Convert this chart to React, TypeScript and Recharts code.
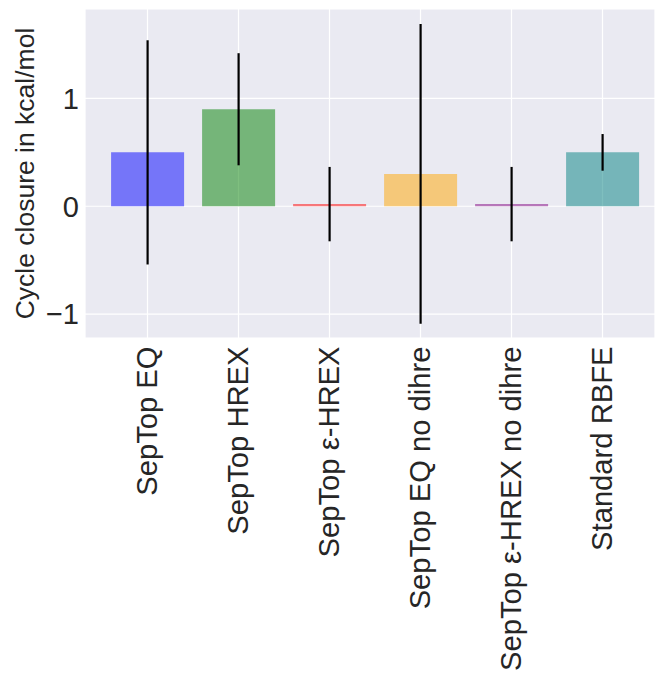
import { BarChart, Bar, Cell, CartesianGrid, XAxis, YAxis, ErrorBar } from 'recharts';

const categories = [
    'SepTop EQ',
    'SepTop HREX',
    'SepTop ε-HREX',
    'SepTop EQ no dihre',
    'SepTop ε-HREX no dihre',
    'Standard RBFE',
];
const closures = [0.5, 0.9, 0.02, 0.3, 0.02, 0.5];
const closureErrors = [1.04, 0.52, 0.345, 1.39, 0.345, 0.17];
const barColors = ['blue', 'green', 'red', 'orange', 'purple', 'teal'];
const yTicks = [-1, 0, 1];

const font = '"Liberation Sans", Arial, sans-serif';
const textColor = '#262626';

const XTick = ({ x, y, payload }: any) => {
    const ty = y + 8.5;
    return (
        <text
            x={x}
            y={ty}
            transform={`rotate(-90, ${x}, ${ty})`}
            textAnchor="end"
            dy={9}
            fontSize={29.2}
            fontFamily={font}
            fill={textColor}
        >
            {payload.value}
        </text>
    );
};

const App = () => {
    const data = categories.map((name, i) => ({
        name,
        value: closures[i],
        err: closureErrors[i],
    }));

    return (
        <div style={{ position: 'absolute', left: 0, top: 0 }}>
            <BarChart
                width={655}
                height={675}
                data={data}
                margin={{ top: 9, right: 0, bottom: 0, left: 0 }}
                barCategoryGap="10%"
            >
                <CartesianGrid fill="#eaeaf2" stroke="#ffffff" strokeWidth={1.2} />
                <XAxis
                    dataKey="name"
                    height={337}
                    padding={{ left: 17, right: 7 }}
                    axisLine={false}
                    tickLine={false}
                    tickSize={0}
                    tickMargin={0}
                    interval={0}
                    tick={<XTick />}
                />
                <YAxis
                    type="number"
                    width={85}
                    domain={[-1.222, 1.83]}
                    allowDataOverflow
                    ticks={yTicks}
                    axisLine={false}
                    tickLine={false}
                    tickSize={0}
                    tickMargin={6}
                    tickFormatter={(v: number) => (v < 0 ? '\u2212' + Math.abs(v) : String(v))}
                    tick={{ fontSize: 29, fill: textColor, fontFamily: font }}
                    label={{
                        value: 'Cycle closure in kcal/mol',
                        angle: -90,
                        position: 'insideLeft',
                        offset: 25,
                        style: { textAnchor: 'middle', fontSize: 26.5, fill: textColor, fontFamily: font },
                    }}
                />
                <Bar dataKey="value" fillOpacity={0.5} isAnimationActive={false}>
                    {data.map((d, i) => (
                        <Cell key={d.name} fill={barColors[i]} />
                    ))}
                    <ErrorBar dataKey="err" width={0} stroke="#000000" strokeWidth={2.2} direction="y" />
                </Bar>
            </BarChart>
        </div>
    );
};

export default App;
